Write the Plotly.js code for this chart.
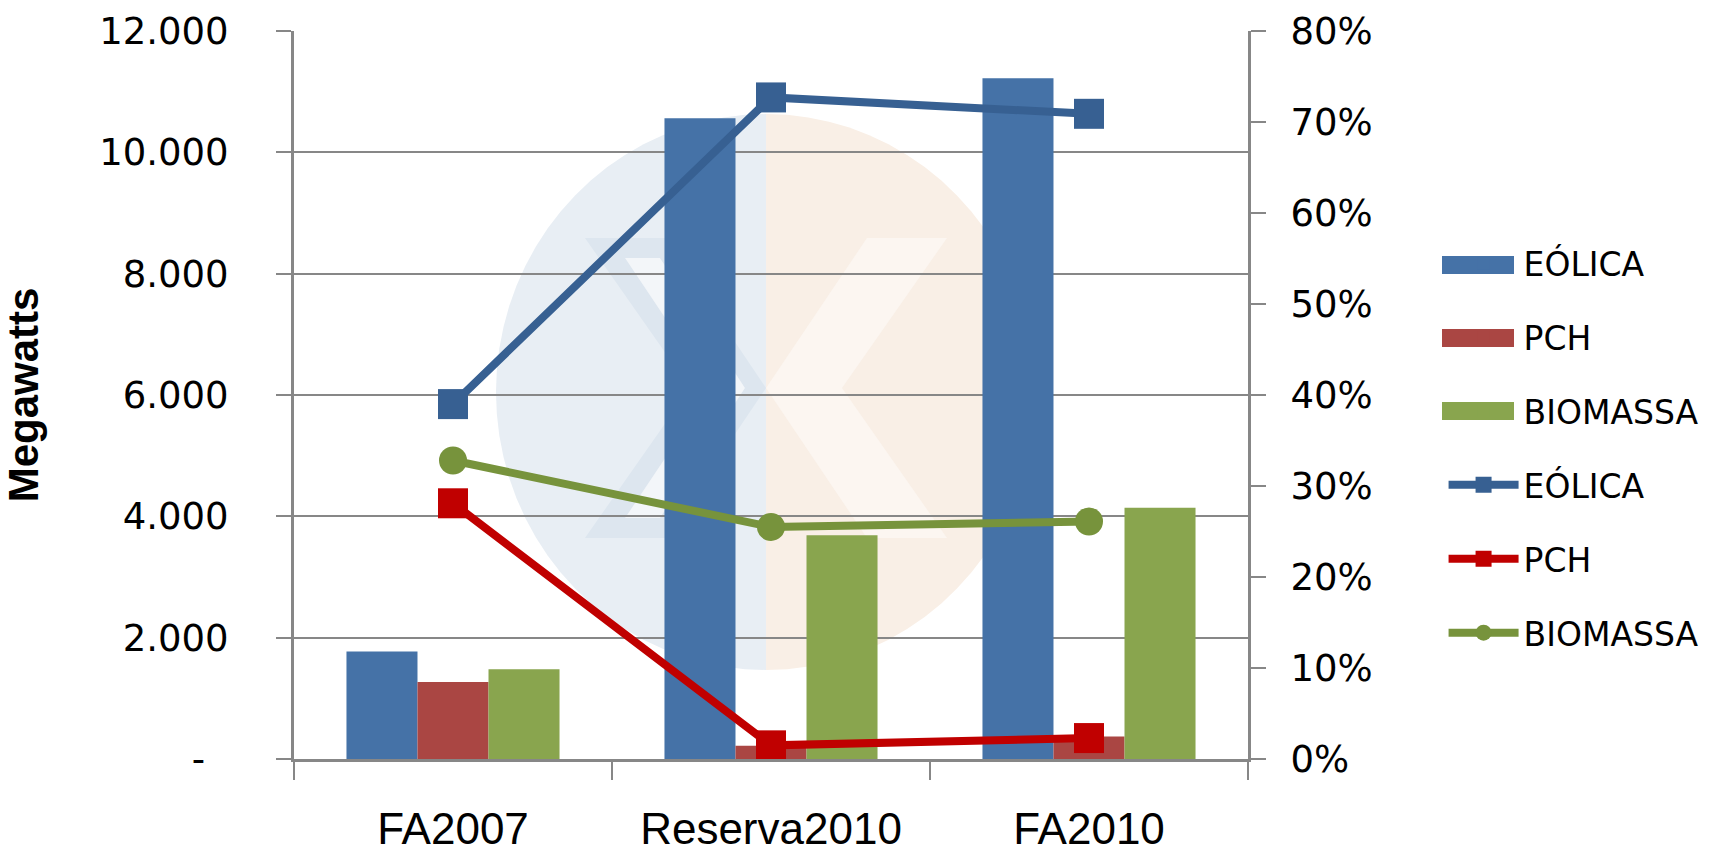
<!DOCTYPE html>
<html>
<head>
<meta charset="utf-8">
<script src="https://cdn.plot.ly/plotly-3.0.1.min.js"></script>
<style>html,body{margin:0;padding:0;background:#fff;}#chart{width:1720px;height:858px;}</style>
</head>
<body>
<div id="chart"></div>
<script>
// ---- data ----
const categories = ["FA2007", "Reserva2010", "FA2010"];
const barEolica = [1770, 10560, 11220];     // MW
const barPch = [1270, 220, 370];            // MW
const barBiomassa = [1480, 3690, 4140];     // MW
const pctEolica = [39.0, 72.7, 70.9];       // %
const pctPch = [28.1, 1.5, 2.3];            // %
const pctBiomassa = [32.8, 25.5, 26.1];     // %
const seriesNames = ["EÓLICA", "PCH", "BIOMASSA"];
const leftTickVals = [0, 2000, 4000, 6000, 8000, 10000, 12000];
const leftTickText = ["-\u00a0\u00a0", "2.000", "4.000", "6.000", "8.000", "10.000", "12.000"];
const rightTickVals = [0, 10, 20, 30, 40, 50, 60, 70, 80];
const rightTickText = ["0%", "10%", "20%", "30%", "40%", "50%", "60%", "70%", "80%"];

// ---- styles ----
const barColors = ["#4572A7", "#AA4643", "#89A54E"];
const lineColors = ["#376092", "#C00000", "#77933C"];
const axisGray = "#878787";
const tickFont = {family: "DejaVu Sans, Verdana, sans-serif", size: 37, color: "#000"};

const traces = [];
[barEolica, barPch, barBiomassa].forEach((vals, i) => {
  traces.push({
    type: "bar", x: categories, y: vals, name: seriesNames[i],
    marker: {color: barColors[i]}, legendgroup: "b" + i, hoverinfo: "skip"
  });
});
const symbols = ["square", "square", "circle"];
const msizes = [30, 30, 28];
[pctEolica, pctPch, pctBiomassa].forEach((vals, i) => {
  traces.push({
    type: "scatter", mode: "lines+markers", x: categories, y: vals, yaxis: "y2",
    name: seriesNames[i], legendgroup: "l" + i,
    line: {color: lineColors[i], width: 8},
    marker: {symbol: symbols[i], size: msizes[i], color: lineColors[i]},
    hoverinfo: "skip"
  });
});

// watermark & legend swatch decoration (paper coords)
const L = 294, R = 1248, T = 31, B = 759;
const px = x => (x - L) / (R - L);
const py = y => (B - y) / (B - T);
function halfEllipse(cx, cy, rx, ry, side) {
  let d = "";
  const n = 40;
  for (let k = 0; k <= n; k++) {
    const a = -Math.PI / 2 + Math.PI * k / n;
    const x = cx + side * rx * Math.cos(a);
    const y = cy + ry * Math.sin(a);
    d += (k === 0 ? "M" : "L") + px(x).toFixed(4) + "," + py(y).toFixed(4);
  }
  return d + "Z";
}
function poly(pts) {
  return pts.map((p, k) => (k === 0 ? "M" : "L") + px(p[0]).toFixed(4) + "," + py(p[1]).toFixed(4)).join("") + "Z";
}
const wcx = 766, wcy = 392, wrx = 270, wry = 278;
const shapes = [
  {type: "path", xref: "paper", yref: "paper", layer: "below", path: halfEllipse(wcx, wcy, wrx, wry, -1),
   fillcolor: "#e8eef4", line: {width: 0}},
  {type: "path", xref: "paper", yref: "paper", layer: "below", path: halfEllipse(wcx, wcy, wrx, wry, 1),
   fillcolor: "#f9efe6", line: {width: 0}},
  {type: "path", xref: "paper", yref: "paper", layer: "below",
   path: poly([[585, 238], [665, 238], [766, 388], [665, 538], [585, 538], [690, 388]]),
   fillcolor: "#dde6ef", line: {width: 0}},
  {type: "path", xref: "paper", yref: "paper", layer: "below",
   path: poly([[625, 258], [660, 258], [745, 388], [660, 518], [625, 518], [712, 388]]),
   fillcolor: "#f3f6f9", line: {width: 0}},
  {type: "path", xref: "paper", yref: "paper", layer: "below",
   path: poly([[947, 238], [867, 238], [766, 388], [867, 538], [947, 538], [842, 388]]),
   fillcolor: "#fcf6f1", line: {width: 0}}
];
// wide legend swatches for the bar entries
const swY = [265, 338, 411];
swY.forEach((y, i) => {
  shapes.push({type: "rect", xref: "paper", yref: "paper", layer: "above",
    x0: px(1442), x1: px(1514), y0: py(y - 9), y1: py(y + 9),
    fillcolor: barColors[i], line: {width: 0}});
});

const layout = {
  width: 1720, height: 858,
  paper_bgcolor: "#ffffff", plot_bgcolor: "rgba(0,0,0,0)",
  margin: {l: L, r: 1720 - R, t: T, b: 858 - B, pad: 0},
  barmode: "group", bargap: 0.33, bargroupgap: 0,
  showlegend: true,
  legend: {
    x: 1.205, xanchor: "left", y: 0.7195, yanchor: "top",
    font: {family: "DejaVu Sans, Verdana, sans-serif", size: 33, color: "#000"},
    traceorder: "grouped", tracegroupgap: 28, itemwidth: 70,
    bgcolor: "rgba(0,0,0,0)"
  },
  xaxis: {
    type: "category", range: [-0.5, 2.5],
    showline: true, linecolor: axisGray, linewidth: 3,
    ticks: "outside", tickson: "boundaries", ticklen: 18, tickwidth: 2, tickcolor: axisGray,
    tickfont: {family: "Liberation Sans Narrow, Arial Narrow, Liberation Sans, sans-serif", size: 44, color: "#000"},
    ticklabelstandoff: 29,
    showgrid: false, zeroline: false, fixedrange: true
  },
  yaxis: {
    range: [0, 12000], tickvals: leftTickVals, ticktext: leftTickText,
    showline: true, linecolor: axisGray, linewidth: 3,
    ticks: "outside", ticklen: 15, tickwidth: 2, tickcolor: axisGray,
    showgrid: true, gridcolor: axisGray, gridwidth: 2, zeroline: false,
    tickfont: tickFont, ticklabelstandoff: 40,
    title: {text: "Megawatts", standoff: 52,
            font: {family: "Liberation Sans Narrow, Arial Narrow, Liberation Sans, sans-serif", size: 42, color: "#000", weight: "bold"}},
    fixedrange: true
  },
  yaxis2: {
    overlaying: "y", side: "right", range: [0, 80],
    tickvals: rightTickVals, ticktext: rightTickText,
    showline: true, linecolor: axisGray, linewidth: 3,
    ticks: "outside", ticklen: 15, tickwidth: 2, tickcolor: axisGray,
    showgrid: false, zeroline: false,
    tickfont: tickFont, ticklabelstandoff: 17, fixedrange: true
  },
  shapes: shapes
};

Plotly.newPlot("chart", traces, layout, {displayModeBar: false, staticPlot: true});
</script>
</body>
</html>
